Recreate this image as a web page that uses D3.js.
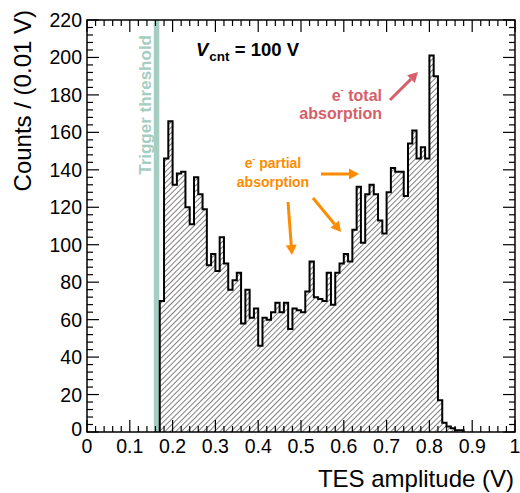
<!DOCTYPE html>
<html>
<head>
<meta charset="utf-8">
<script src="https://cdn.jsdelivr.net/npm/d3@7"></script>
<style>
  body { margin: 0; background: #fff; }
  svg { font-family: "Liberation Sans", Arial, sans-serif; }
</style>
</head>
<body>
<div id="chart"></div>
<script>
// Histogram of TES amplitude, 0.01 V bins, first filled bin starts at 0.17 V
var binWidth = 0.01;
var firstBin = 0.17;
var counts = [70, 146, 166, 132, 138, 139, 120, 111, 136, 127,
              119, 89, 95, 86, 104, 90, 76, 81, 85, 58,
              76, 61, 66, 46, 61, 60, 64, 69, 64, 69,
              55, 66, 65, 64, 75, 91, 72, 71, 70, 85,
              68, 85, 90, 95, 91, 108, 131, 101, 127, 132,
              127, 113, 106, 128, 141, 139, 139, 126, 154, 161,
              146, 152, 146, 201, 190, 17, 5, 3, 2, 1, 1];
var thresholdV = 0.1625;

var xTicks = [0, 0.1, 0.2, 0.3, 0.4, 0.5, 0.6, 0.7, 0.8, 0.9, 1];
var xTickLabels = ["0", "0.1", "0.2", "0.3", "0.4", "0.5", "0.6", "0.7", "0.8", "0.9", "1"];
var yTicks = [0, 20, 40, 60, 80, 100, 120, 140, 160, 180, 200, 220];

var width = 520, height = 493;
var plot = {left: 87, top: 20, right: 515, bottom: 432};

var svg = d3.select("#chart").append("svg")
    .attr("width", width)
    .attr("height", height);

// hatch pattern "////"
var defs = svg.append("defs");
defs.append("pattern")
    .attr("id", "hatch")
    .attr("patternUnits", "userSpaceOnUse")
    .attr("width", 3.9)
    .attr("height", 3.9)
    .attr("patternTransform", "rotate(45)")
  .append("line")
    .attr("x1", 0).attr("y1", 0)
    .attr("x2", 0).attr("y2", 3.9)
    .attr("stroke", "#000")
    .attr("stroke-width", 1);

var x = d3.scaleLinear().domain([0, 1]).range([plot.left, plot.right]);
var y = d3.scaleLinear().domain([0, 220]).range([plot.bottom, plot.top]);

// trigger threshold band
svg.append("line")
    .attr("x1", x(thresholdV)).attr("x2", x(thresholdV))
    .attr("y1", plot.top).attr("y2", plot.bottom)
    .attr("stroke", "#a5cdc1")
    .attr("stroke-width", 5.5);

svg.append("text")
    .attr("transform", "translate(" + (x(thresholdV) - 6) + ",35) rotate(-90)")
    .attr("text-anchor", "end")
    .attr("font-size", 17)
    .attr("font-weight", "bold")
    .attr("fill", "#a5cdc1")
    .text("Trigger threshold");

// histogram as a step path
var pts = [[firstBin, 0]];
counts.forEach(function (c, i) {
  pts.push([firstBin + i * binWidth, c]);
});
pts.push([firstBin + counts.length * binWidth, counts[counts.length - 1]]);
pts.push([firstBin + counts.length * binWidth, 0]);

var step = d3.line()
    .x(function (d) { return x(d[0]); })
    .y(function (d) { return y(d[1]); })
    .curve(d3.curveStepAfter);

svg.append("path")
    .attr("d", step(pts))
    .attr("fill", "url(#hatch)")
    .attr("stroke", "#000")
    .attr("stroke-width", 2)
    .attr("stroke-linejoin", "miter");

// frame
svg.append("rect")
    .attr("x", plot.left).attr("y", plot.top)
    .attr("width", plot.right - plot.left)
    .attr("height", plot.bottom - plot.top)
    .attr("fill", "none")
    .attr("stroke", "#000")
    .attr("stroke-width", 1.5);

// ticks (ROOT style, inward, on all four sides)
var xMinor = d3.range(0, 1.0001, 0.02);
var yMinor = d3.range(0, 220.001, 4);
var ticks = svg.append("g").attr("stroke", "#000").attr("stroke-width", 1.2);

xMinor.forEach(function (v) {
  var major = Math.abs(v * 10 - Math.round(v * 10)) < 1e-6;
  var len = major ? 12 : 6;
  ticks.append("line").attr("x1", x(v)).attr("x2", x(v))
      .attr("y1", plot.bottom).attr("y2", plot.bottom - len);
  ticks.append("line").attr("x1", x(v)).attr("x2", x(v))
      .attr("y1", plot.top).attr("y2", plot.top + len);
});
yMinor.forEach(function (v) {
  var major = v % 20 === 0;
  var len = major ? 12 : 6;
  ticks.append("line").attr("y1", y(v)).attr("y2", y(v))
      .attr("x1", plot.left).attr("x2", plot.left + len);
  ticks.append("line").attr("y1", y(v)).attr("y2", y(v))
      .attr("x1", plot.right).attr("x2", plot.right - len);
});

// tick labels
svg.append("g").selectAll("text")
    .data(xTicks)
    .enter().append("text")
    .attr("x", function (d) { return x(d); })
    .attr("y", plot.bottom + 21)
    .attr("text-anchor", "middle")
    .attr("font-size", 19.5)
    .text(function (d, i) { return xTickLabels[i]; });

svg.append("g").selectAll("text")
    .data(yTicks)
    .enter().append("text")
    .attr("x", plot.left - 5)
    .attr("y", function (d) { return y(d) + (d === 0 ? 4 : 7); })
    .attr("text-anchor", "end")
    .attr("font-size", 19.5)
    .text(function (d) { return d; });

// axis titles
svg.append("text")
    .attr("x", 514)
    .attr("y", 487)
    .attr("text-anchor", "end")
    .attr("font-size", 24)
    .text("TES amplitude (V)");

svg.append("text")
    .attr("transform", "translate(31,10) rotate(-90)")
    .attr("text-anchor", "end")
    .attr("font-size", 24)
    .text("Counts / (0.01 V)");

// V_cnt label
var vt = svg.append("text")
    .attr("x", 196)
    .attr("y", 56)
    .attr("font-size", 18.5)
    .attr("font-weight", "bold");
vt.append("tspan").attr("font-style", "italic").text("V");
vt.append("tspan").attr("font-size", 13.5).attr("dy", 5).attr("dx", 1).text("cnt");
vt.append("tspan").attr("dy", -5).text(" = 100 V");

// annotations: each label is one text with two lines
var red = "#d6606a", orange = "#ff8c00";
function eLabel(xPos, yPos, size, gap, color, word, anchor) {
  var t = svg.append("text")
      .attr("x", xPos).attr("y", yPos)
      .attr("text-anchor", anchor)
      .attr("font-size", size)
      .attr("font-weight", "bold")
      .attr("fill", color);
  var l1 = t.append("tspan").attr("x", xPos);
  l1.append("tspan").text("e");
  l1.append("tspan").attr("font-size", size * 0.6).attr("dy", -size * 0.45).text("-");
  l1.append("tspan").attr("dy", size * 0.45).text(" " + word);
  t.append("tspan").attr("x", xPos).attr("dy", gap).text("absorption");
}

eLabel(382, 100.5, 16, 18.5, red, "total", "end");
eLabel(273, 168, 14, 19, orange, "partial", "middle");

// arrows
function arrow(x1, y1, x2, y2, color) {
  var ang = Math.atan2(y2 - y1, x2 - x1);
  var hl = 10, hw = 5.5;
  var bx = x2 - hl * Math.cos(ang), by = y2 - hl * Math.sin(ang);
  svg.append("line")
      .attr("x1", x1).attr("y1", y1).attr("x2", bx).attr("y2", by)
      .attr("stroke", color).attr("stroke-width", 3);
  var px = -Math.sin(ang) * hw, py = Math.cos(ang) * hw;
  svg.append("path")
      .attr("d", "M" + x2 + "," + y2 + "L" + (bx + px) + "," + (by + py) +
                 "L" + (bx - px) + "," + (by - py) + "Z")
      .attr("fill", color);
}
arrow(390, 100, 418, 72, red);
arrow(321, 174, 359, 174, orange);
arrow(288, 202, 292, 255, orange);
arrow(313, 198, 341, 232, orange);
</script>
</body>
</html>
